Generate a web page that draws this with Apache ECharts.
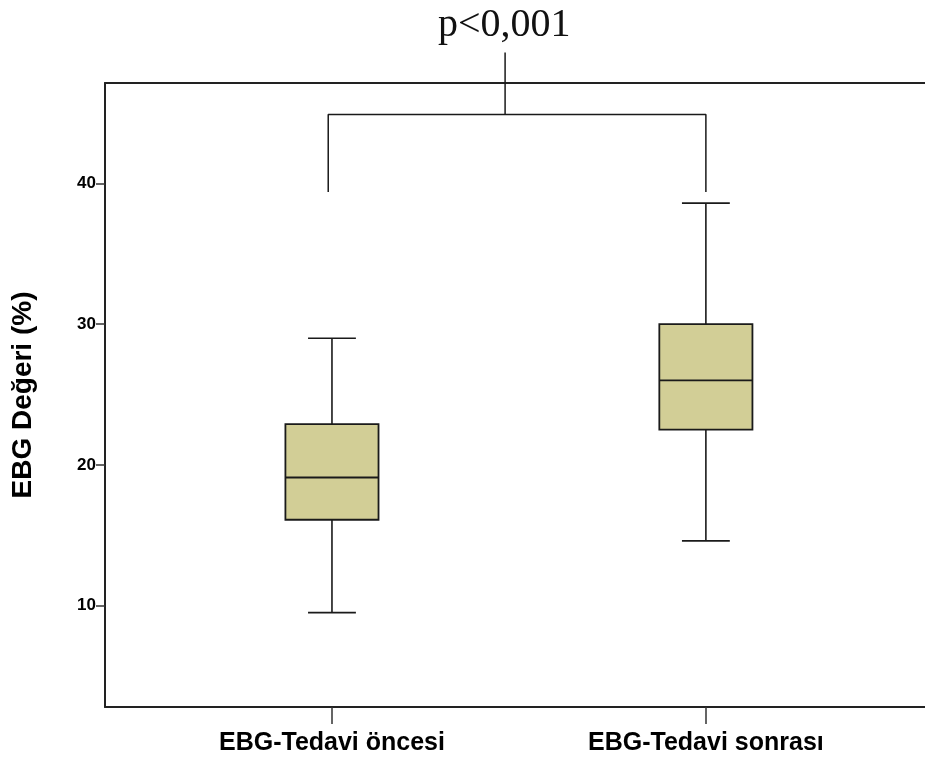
<!DOCTYPE html>
<html>
<head>
<meta charset="utf-8">
<script src="https://cdn.jsdelivr.net/npm/echarts@6/dist/echarts.min.js"></script>
<style>html,body{margin:0;padding:0;background:#fff}#c{width:925px;height:762px}</style>
</head>
<body>
<div id="c"></div>
<script>
// ---- data ----
const categories = ['EBG-Tedavi öncesi', 'EBG-Tedavi sonrası'];
const categoryX = [1, 2];
// [min, Q1, median, Q3, max]
const preValues = [9.5, 16.1, 19.1, 22.9, 29.0];
const postValues = [14.6, 22.5, 26.0, 30.0, 38.6];
const yTicks = [10, 20, 30, 40];
const pText = 'p<0,001';
// significance bracket (data units)
const bracketX = [0.99, 0.99, 2.0, 2.0];
const bracketY = [39.4, 44.9, 44.9, 39.4];
const stemX = [1.463, 1.463];
const stemY = [44.9, 49.3];

const BOX_W = 0.249, CAP_W = 0.128;
const X_MIN = 0.393, X_MAX = 2.586;
const Y_MIN = 2.79, Y_MAX = 47.14;

const chart = echarts.init(document.getElementById('c'));
const boxData = [
  [categoryX[0]].concat(preValues),
  [categoryX[1]].concat(postValues)
];
const axisCol = '#222';
chart.setOption({
  animation: false,
  backgroundColor: '#fff',
  title: {
    text: pText, left: 433, top: 0,
    textStyle: { fontFamily: 'Liberation Serif', fontSize: 40, fontWeight: 'normal', color: '#111' }
  },
  grid: { left: 105, right: 0, top: 83, bottom: 55 },
  xAxis: [{
    type: 'value', min: X_MIN, max: X_MAX, position: 'bottom',
    splitLine: { show: false },
    axisLine: { show: true, lineStyle: { color: axisCol, width: 2 } },
    axisTick: { show: true, customValues: categoryX, length: 17, lineStyle: { color: '#333', width: 1.5 } },
    axisLabel: {
      customValues: categoryX, margin: 24,
      formatter: v => categories[categoryX.indexOf(v)] || '',
      fontFamily: 'Liberation Sans', fontWeight: 'bold', fontSize: 25, color: '#000'
    }
  }, {
    type: 'value', min: X_MIN, max: X_MAX, position: 'top',
    splitLine: { show: false },
    axisLine: { show: true, lineStyle: { color: axisCol, width: 2 } },
    axisTick: { show: false }, axisLabel: { show: false }
  }],
  yAxis: {
    type: 'value', min: Y_MIN, max: Y_MAX,
    name: 'EBG Değeri (%)', nameLocation: 'middle', nameGap: 68,
    nameTextStyle: { fontFamily: 'Liberation Sans', fontWeight: 'bold', fontSize: 28, color: '#000' },
    splitLine: { show: false },
    axisLine: { show: true, lineStyle: { color: axisCol, width: 2 } },
    axisTick: { show: true, customValues: yTicks, length: 9, lineStyle: { color: '#333', width: 1.5 } },
    axisLabel: {
      customValues: yTicks, margin: 9,
      fontFamily: 'Liberation Sans', fontWeight: 'bold', fontSize: 17, color: '#000'
    }
  },
  series: [{
    type: 'custom',
    xAxisIndex: 0,
    data: boxData,
    renderItem: (params, api) => {
      const x = api.value(0);
      const lo = api.coord([x, api.value(1)]);
      const q1 = api.coord([x, api.value(2)]);
      const md = api.coord([x, api.value(3)]);
      const q3 = api.coord([x, api.value(4)]);
      const hi = api.coord([x, api.value(5)]);
      const bw = api.size([BOX_W, 0])[0];
      const cw = api.size([CAP_W, 0])[0];
      const cx = lo[0];
      const ls = { stroke: '#1a1a1a', lineWidth: 1.6 };
      return {
        type: 'group',
        children: [
          { type: 'line', shape: { x1: cx, y1: hi[1], x2: cx, y2: q3[1] }, style: ls },
          { type: 'line', shape: { x1: cx, y1: q1[1], x2: cx, y2: lo[1] }, style: ls },
          { type: 'line', shape: { x1: cx - cw / 2, y1: hi[1], x2: cx + cw / 2, y2: hi[1] }, style: ls },
          { type: 'line', shape: { x1: cx - cw / 2, y1: lo[1], x2: cx + cw / 2, y2: lo[1] }, style: ls },
          { type: 'rect', shape: { x: cx - bw / 2, y: q3[1], width: bw, height: q1[1] - q3[1] },
            style: { fill: '#d2ce96', stroke: '#1a1a1a', lineWidth: 1.8 } },
          { type: 'line', shape: { x1: cx - bw / 2, y1: md[1], x2: cx + bw / 2, y2: md[1] },
            style: { stroke: '#1a1a1a', lineWidth: 1.8 } }
        ]
      };
    }
  }, {
    type: 'line', xAxisIndex: 0, clip: false, symbol: 'none', silent: true,
    data: bracketX.map((v, i) => [v, bracketY[i]]),
    lineStyle: { color: '#1a1a1a', width: 1.5 }
  }, {
    type: 'line', xAxisIndex: 0, clip: false, symbol: 'none', silent: true,
    data: stemX.map((v, i) => [v, stemY[i]]),
    lineStyle: { color: '#1a1a1a', width: 1.5 }
  }]
});
</script>
</body>
</html>
